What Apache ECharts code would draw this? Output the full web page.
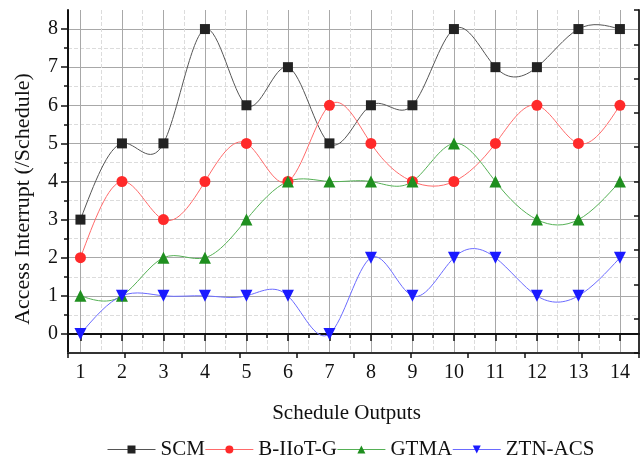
<!DOCTYPE html>
<html>
<head>
<meta charset="utf-8">
<script src="https://cdn.jsdelivr.net/npm/echarts@6/dist/echarts.min.js"></script>
<style>
  html, body { margin: 0; padding: 0; background: #fff; }
  #main { width: 640px; height: 461px; }
</style>
</head>
<body>
<div id="main"></div>
<script>
// schedule outputs 1..14
var outputs = [1, 2, 3, 4, 5, 6, 7, 8, 9, 10, 11, 12, 13, 14];
var scm = [3, 5, 5, 8, 6, 7, 5, 6, 6, 8, 7, 7, 8, 8];
var biiotg = [2, 4, 3, 4, 5, 4, 6, 5, 4, 4, 5, 6, 5, 6];
var gtma = [1, 1, 2, 2, 3, 4, 4, 4, 4, 5, 4, 3, 3, 4];
var ztnacs = [0, 1, 1, 1, 1, 1, 0, 2, 1, 2, 2, 1, 1, 2];
var yTicks = [0, 1, 2, 3, 4, 5, 6, 7, 8];
var xMinor = [1.5, 2.5, 3.5, 4.5, 5.5, 6.5, 7.5, 8.5, 9.5, 10.5, 11.5, 12.5, 13.5];
var yMinor = [0.5, 1.5, 2.5, 3.5, 4.5, 5.5, 6.5, 7.5];

var font = 'Liberation Serif';

function pairs(vals) {
  return outputs.map(function (x, i) { return [x, vals[i]]; });
}

// natural cubic spline slopes at the knots (like Origin's "Spline" connect)
function splineSlopes(ys) {
  var n = ys.length;
  var M = new Array(n).fill(0);
  var c = new Array(n).fill(0), r = new Array(n).fill(0);
  for (var i = 1; i < n - 1; i++) {
    var h0 = outputs[i] - outputs[i - 1], h1 = outputs[i + 1] - outputs[i];
    var a = h0, b = 2 * (h0 + h1), cc = h1;
    var rhs = 6 * ((ys[i + 1] - ys[i]) / h1 - (ys[i] - ys[i - 1]) / h0);
    var den = b - a * c[i - 1];
    c[i] = cc / den;
    r[i] = (rhs - a * r[i - 1]) / den;
  }
  for (var k = n - 2; k >= 1; k--) {
    M[k] = r[k] - c[k] * M[k + 1];
  }
  var d = [];
  for (var j = 0; j < n - 1; j++) {
    var h = outputs[j + 1] - outputs[j];
    d.push((ys[j + 1] - ys[j]) / h - h * (2 * M[j] + M[j + 1]) / 6);
  }
  var hl = outputs[n - 1] - outputs[n - 2];
  d.push((ys[n - 1] - ys[n - 2]) / hl + hl * (M[n - 2] + 2 * M[n - 1]) / 6);
  return d;
}

function curve(name, ys, color) {
  var d = splineSlopes(ys);
  return {
    name: name + ' curve',
    type: 'custom',
    z: 1,
    silent: true,
    data: pairs(ys),
    encode: { x: 0, y: 1 },
    renderItem: function (params, api) {
      var i = params.dataIndex;
      if (i >= ys.length - 1) return null;
      var h = outputs[i + 1] - outputs[i];
      var p0 = api.coord([outputs[i], ys[i]]);
      var p1 = api.coord([outputs[i + 1], ys[i + 1]]);
      var c0 = api.coord([outputs[i] + h / 3, ys[i] + d[i] * h / 3]);
      var c1 = api.coord([outputs[i + 1] - h / 3, ys[i + 1] - d[i + 1] * h / 3]);
      return {
        type: 'bezierCurve',
        shape: { x1: p0[0], y1: p0[1], x2: p1[0], y2: p1[1], cpx1: c0[0], cpy1: c0[1], cpx2: c1[0], cpy2: c1[1] },
        style: { stroke: color, fill: null, lineWidth: 1 }
      };
    }
  };
}

function marks(name, ys, symbol, size, color, lineColor, rotate) {
  return {
    name: name,
    type: 'line',
    z: 3,
    symbol: symbol,
    symbolSize: size,
    symbolRotate: rotate || 0,
    itemStyle: { color: color },
    lineStyle: { color: lineColor, width: 1, opacity: 0 },
    data: pairs(ys)
  };
}

var chart = echarts.init(document.getElementById('main'));

var option = {
  animation: false,
  textStyle: { fontFamily: font },
  grid: { left: 68, right: 1, top: 10, bottom: 108 },
  graphic: [{
    type: 'text',
    x: 23,
    y: 199,
    rotation: Math.PI / 2,
    style: {
      text: 'Access Interrupt (/Schedule)',
      fontSize: 22,
      fontFamily: font,
      fill: '#111',
      align: 'center',
      verticalAlign: 'middle'
    }
  }],
  legend: {
    top: 434,
    left: 102,
    itemGap: 0,
    itemWidth: 48,
    itemHeight: 10,
    lineStyle: { opacity: 1, width: 1 },
    textStyle: { fontFamily: font, fontSize: 21, color: '#111' },
    data: ['SCM', 'B-IIoT-G', 'GTMA', 'ZTN-ACS']
  },
  xAxis: [{
    type: 'value',
    position: 'bottom',
    min: 0.7,
    max: 14.46,
    name: 'Schedule Outputs',
    nameLocation: 'middle',
    nameGap: 50,
    nameTextStyle: { fontFamily: font, fontSize: 21, color: '#111', padding: [0, 14, 0, 0] },
    axisLine: { lineStyle: { color: '#111', width: 2 } },
    axisTick: { length: 7, lineStyle: { color: '#111', width: 1.5 }, customValues: outputs },
    axisLabel: { fontFamily: font, fontSize: 20, color: '#111', margin: 10, customValues: outputs },
    splitLine: { show: true, lineStyle: { color: '#a8a8a8', width: 1 } }
  }, {
    type: 'value',
    position: 'bottom',
    min: 0.7,
    max: 14.46,
    axisLine: { show: false },
    axisTick: { length: 4, lineStyle: { color: '#111', width: 1.5 }, customValues: xMinor },
    axisLabel: { show: false },
    splitLine: { show: true, lineStyle: { color: '#dcdcdc', width: 1, type: 'dashed' } }
  }, {
    type: 'value',
    position: 'top',
    min: 0,
    max: 10,
    interval: 1,
    axisLine: { lineStyle: { color: '#333', width: 2 } },
    axisTick: { inside: true, length: 5, lineStyle: { color: '#111', width: 1.5 } },
    axisLabel: { show: false },
    splitLine: { show: false }
  }],
  yAxis: [{
    type: 'value',
    position: 'left',
    min: -0.5,
    max: 8.5,
    axisLine: { show: true, lineStyle: { color: '#111', width: 2 } },
    axisTick: { show: true, length: 7, lineStyle: { color: '#111', width: 1.5 }, customValues: yTicks },
    axisLabel: { fontFamily: font, fontSize: 20, color: '#111', margin: 10, customValues: yTicks },
    splitLine: { show: true, lineStyle: { color: '#a8a8a8', width: 1 } }
  }, {
    type: 'value',
    position: 'left',
    min: -0.5,
    max: 8.5,
    axisLine: { show: false },
    axisTick: { show: true, length: 4, lineStyle: { color: '#111', width: 1.5 }, customValues: yMinor },
    axisLabel: { show: false },
    splitLine: { show: true, lineStyle: { color: '#dcdcdc', width: 1, type: 'dashed' } }
  }, {
    type: 'value',
    position: 'right',
    min: 0,
    max: 10,
    interval: 1,
    axisLine: { show: true, lineStyle: { color: '#333', width: 2 } },
    axisTick: { show: true, inside: true, length: 5, lineStyle: { color: '#111', width: 1.5 } },
    axisLabel: { show: false },
    splitLine: { show: false }
  }],
  series: [
    curve('SCM', scm, '#555'),
    curve('B-IIoT-G', biiotg, '#ff6a6a'),
    curve('GTMA', gtma, '#55b055'),
    curve('ZTN-ACS', ztnacs, '#6a6aff'),
    marks('SCM', scm, 'rect', 10, '#222', '#555'),
    marks('B-IIoT-G', biiotg, 'circle', 11, '#ff2a2a', '#ff6a6a'),
    marks('GTMA', gtma, 'triangle', 12, '#1f8f1f', '#55b055'),
    marks('ZTN-ACS', ztnacs, 'triangle', 12, '#1a1aff', '#6a6aff', 180)
  ]
};

chart.setOption(option);
</script>
</body>
</html>
